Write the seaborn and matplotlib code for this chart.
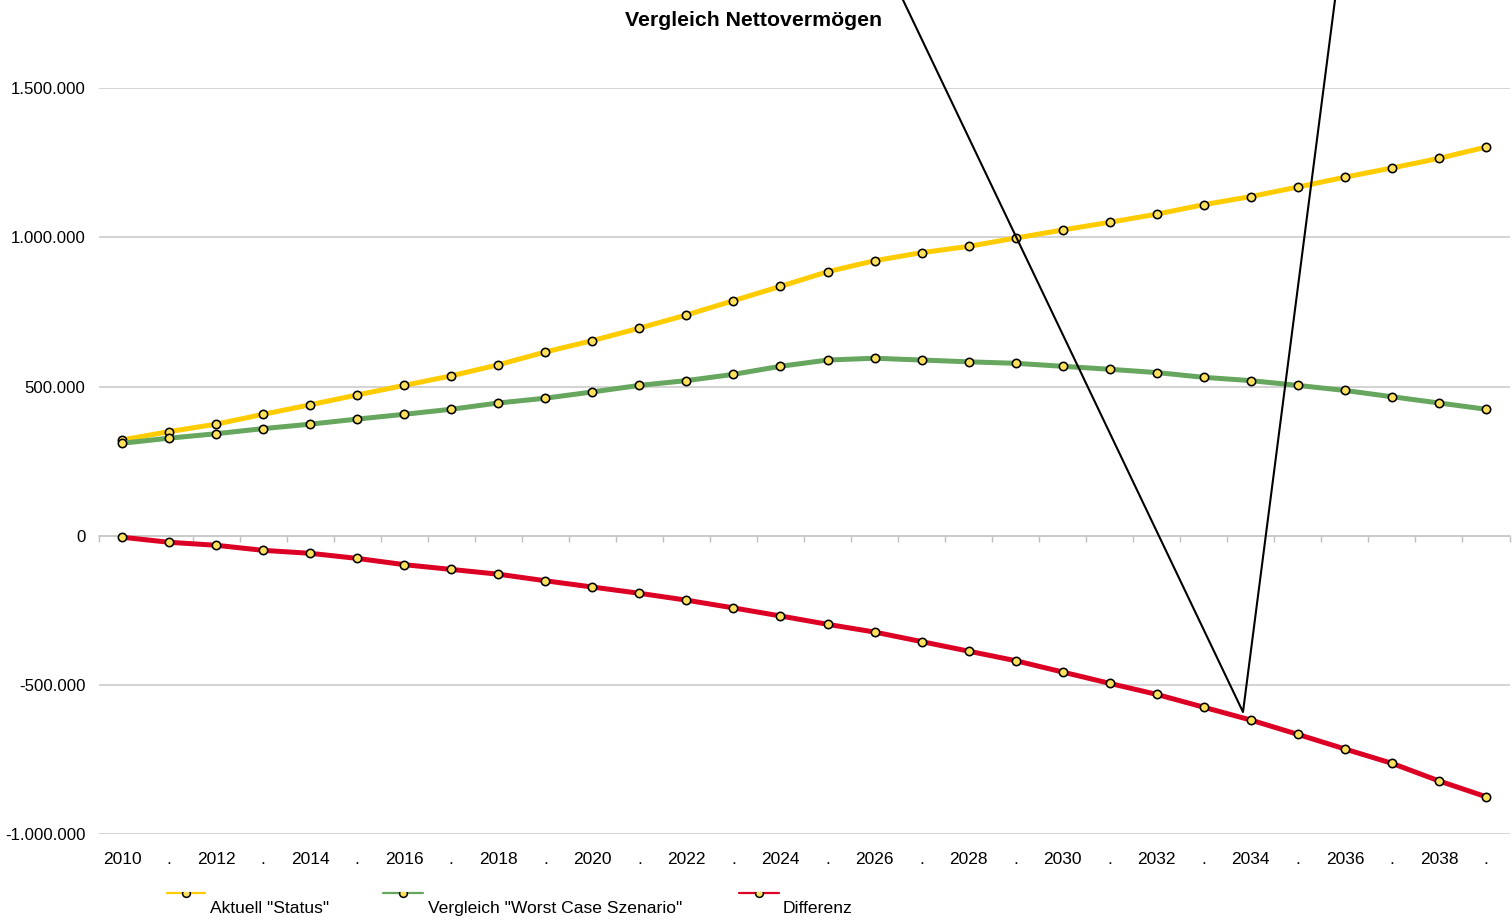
import numpy as np
import pandas as pd
import matplotlib
matplotlib.use("Agg")
import matplotlib.pyplot as plt
import seaborn as sns
from matplotlib.lines import Line2D
from matplotlib.ticker import FuncFormatter
from matplotlib.transforms import Bbox

# ---------------- data ----------------
years = list(range(2010, 2040))
x_labels = [str(y) if y % 2 == 0 else "." for y in years]

series_names = ['Aktuell "Status"', 'Vergleich "Worst Case Szenario"', 'Differenz']

aktuell_status = [321000, 349000, 374000, 407000, 439000, 472000, 504000, 536000, 573000, 616000,
                  654000, 696000, 740000, 788000, 836000, 885000, 922000, 949000, 970000, 998000,
                  1025000, 1051000, 1078000, 1110000, 1137000, 1169000, 1202000, 1233000, 1265000, 1303000]
worst_case = [310000, 327000, 342000, 359000, 374000, 391000, 407000, 424000, 445000, 461000,
              482000, 504000, 520000, 541000, 568000, 589000, 595000, 589000, 583000, 578000,
              568000, 558000, 547000, 531000, 520000, 504000, 487000, 466000, 445000, 424000]
differenz = [-5000, -22000, -32000, -49000, -59000, -76000, -97000, -113000, -129000, -151000,
             -172000, -193000, -216000, -242000, -269000, -297000, -323000, -355000, -387000, -419000,
             -457000, -495000, -532000, -575000, -618000, -666000, -715000, -763000, -822000, -875000]

y_ticks = [-1000000, -500000, 0, 500000, 1000000, 1500000]

colors = ["#FFCC00", "#66A65E", "#DC0025"]
marker_face = "#FFE15C"

# ---------------- figure ----------------
sns.set_theme(style="white")
plt.rcParams["font.family"] = ["Liberation Sans", "DejaVu Sans"]

W, H = 1512, 922
fig = plt.figure(figsize=(W / 100, H / 100), dpi=100)
ax_left, ax_right, ax_top, ax_bottom = 98.5, 1509.5, 88.3, 834.0
ax = fig.add_axes([ax_left / W, 1 - ax_bottom / H, (ax_right - ax_left) / W, (ax_bottom - ax_top) / H])

idx = np.arange(len(years))
for name, vals, col, z in zip(series_names, [aktuell_status, worst_case, differenz], colors, [3, 4, 5]):
    sns.lineplot(x=idx, y=vals, ax=ax, color=col, linewidth=3.6, marker="o", markersize=6.0,
                 markerfacecolor=marker_face, markeredgecolor="black", markeredgewidth=1.15,
                 legend=False, zorder=z, errorbar=None)

ax.set_xlim(-0.5, len(years) - 0.5)
ax.set_ylim(y_ticks[0], y_ticks[-1])
ax.set_yticks(y_ticks)
ax.yaxis.set_major_formatter(FuncFormatter(lambda v, p: f"{v:,.0f}".replace(",", ".")))
ax.set_xticks(idx)
ax.set_xticklabels(x_labels)
ax.set_xlabel("")
ax.set_ylabel("")
ax.grid(False)
ax.yaxis.grid(True, color="#C8C8C8", linewidth=1.1)
ax.set_axisbelow(True)
for s in ax.spines.values():
    s.set_visible(False)
ax.tick_params(axis="y", length=0, pad=9.5, labelsize=12.1, labelcolor="black")
ax.tick_params(axis="x", length=0, pad=13, labelsize=12.5, labelcolor="black")

# category axis crossing at zero with boundary tick marks
sec = ax.secondary_xaxis(0, transform=ax.transData)
sec.set_xticks(np.arange(-0.5, len(years), 1.0))
sec.tick_params(axis="x", direction="out", length=4.3, width=1.0, color="#BFBFBF", labelbottom=False)
sec.spines["bottom"].set_color("#C8C8C8")
sec.spines["bottom"].set_linewidth(1.1)

# title
fig.text(754 / W, 1 - 20.5 / H, "Vergleich Nettovermögen", ha="center", va="center",
         fontsize=15.3, fontweight="bold", color="black")

# annotation shape (black lines)
fig.add_artist(Line2D([903 / W, 1243 / W, 1335 / W], [1.0, 1 - 712 / H, 1.0],
                      transform=fig.transFigure, color="black", linewidth=1.5, zorder=10))

# legend (handles clipped as in the reference)
handle_x = [(167, 205), (383, 423), (739, 779)]
label_x = [210, 428, 783]
clip = Bbox([[0, 0], [W, H - 892]])
for (x0, x1), lx, col, name in zip(handle_x, label_x, colors, series_names):
    hl = Line2D([x0 / W, x1 / W], [1 - 893 / H] * 2, transform=fig.transFigure,
                color=col, linewidth=1.6)
    fig.add_artist(hl)
    mk = Line2D([(x0 + x1) / 2 / W], [1 - 893 / H], transform=fig.transFigure, linestyle="none",
                marker="o", markersize=5.6, markerfacecolor=marker_face, markeredgecolor="black",
                markeredgewidth=1.1)
    mk.set_clip_box(clip)
    mk.set_clip_on(True)
    fig.add_artist(mk)
    fig.text(lx / W, 1 - 908 / H, name, ha="left", va="center", fontsize=12.6, color="black")

fig.savefig("out.png", dpi=100, facecolor="white")
